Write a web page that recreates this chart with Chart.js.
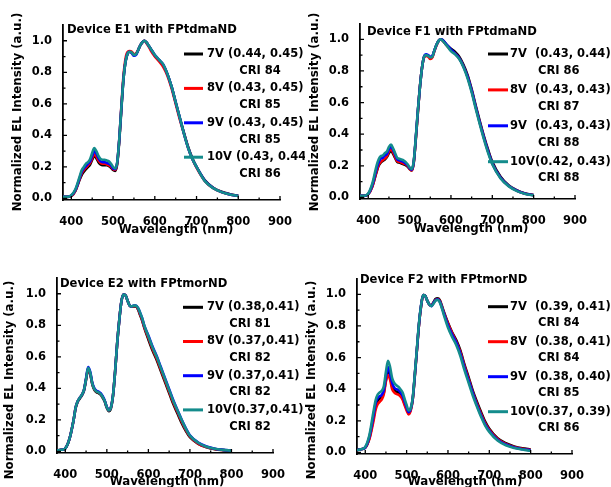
<!DOCTYPE html>
<html>
<head>
<meta charset="utf-8">
<script src="https://cdn.jsdelivr.net/npm/chart.js@4.4.1/dist/chart.umd.min.js"></script>
<style>
  body { margin: 0; background: #fff; }
  #wrap { position: relative; width: 611px; height: 487px; overflow: hidden; background: #fff; }
  .panel { position: absolute; }
</style>
</head>
<body>
<div id="wrap">
  <div class="panel" style="left:0;top:0"><canvas id="c1" width="305" height="245"></canvas></div>
  <div class="panel" style="left:305px;top:0"><canvas id="c2" width="306" height="245"></canvas></div>
  <div class="panel" style="left:0;top:245px"><canvas id="c3" width="305" height="242"></canvas></div>
  <div class="panel" style="left:305px;top:245px"><canvas id="c4" width="306" height="242"></canvas></div>
</div>
<script>
// wavelength grid (nm) shared by every spectrum
const wavelength = [380, 390, 400, 410, 420, 425, 430, 435, 440, 445, 450, 455, 460, 465, 470, 475, 480, 485, 490, 495, 500, 505, 510,
  515, 520, 525, 530, 535, 540, 545, 550, 555, 560, 565, 570, 575, 580, 585, 590,
  600, 610, 620, 630, 640, 650, 660, 670, 680, 690, 700, 720, 740, 760, 780, 800];

// Device E1 (FPtdmaND)
const e1_7V = [.01, .01, .015, .05, .12, .15, .17, .185, .20, .215, .245, .27, .255, .23, .215, .21, .21, .21, .205, .195, .18, .175, .22,
  .37, .57, .76, .87, .92, .93, .925, .91, .915, .94, .97, .99, 1.0, .99, .97, .95,
  .905, .875, .845, .79, .71, .61, .51, .415, .325, .255, .20, .115, .068, .042, .027, .017];
const e1_8V = [.01, .01, .015, .05, .125, .16, .18, .195, .21, .225, .255, .28, .265, .24, .225, .22, .22, .215, .21, .20, .185, .18, .225,
  .38, .59, .78, .89, .93, .935, .93, .915, .92, .94, .97, .99, 1.0, .985, .965, .94,
  .90, .87, .835, .78, .70, .60, .50, .41, .32, .25, .195, .11, .065, .04, .025, .015];
const e1_9V = [.01, .01, .018, .055, .13, .17, .19, .205, .22, .235, .27, .30, .285, .255, .235, .23, .23, .225, .22, .21, .19, .185, .23,
  .38, .58, .76, .87, .92, .93, .92, .905, .91, .94, .97, .99, 1.0, .99, .97, .95,
  .91, .88, .85, .79, .71, .61, .51, .41, .32, .25, .20, .112, .066, .04, .025, .015];
const e1_10V = [.01, .01, .02, .06, .14, .18, .20, .22, .23, .25, .29, .32, .30, .27, .25, .245, .245, .24, .235, .22, .20, .19, .23,
  .38, .58, .76, .87, .92, .93, .925, .91, .915, .94, .97, .99, 1.0, .99, .97, .95,
  .91, .88, .85, .79, .71, .61, .51, .41, .32, .25, .20, .11, .065, .04, .025, .015];

// Device F1 (FPtdmaND)
const f1_7V = [.01, .01, .02, .07, .16, .20, .22, .23, .24, .255, .28, .295, .275, .25, .225, .22, .215, .21, .205, .195, .18, .17, .22,
  .37, .54, .70, .82, .89, .90, .895, .885, .89, .93, .965, .99, 1.0, .995, .98, .965,
  .94, .92, .89, .84, .775, .685, .58, .48, .385, .30, .225, .13, .075, .045, .025, .015];
const f1_8V = [.01, .01, .02, .07, .165, .205, .225, .235, .245, .26, .29, .305, .285, .255, .23, .225, .22, .215, .21, .20, .18, .17, .22,
  .37, .54, .70, .82, .885, .895, .89, .875, .885, .925, .96, .99, 1.0, .99, .975, .96,
  .93, .91, .88, .83, .765, .675, .57, .47, .375, .29, .215, .125, .072, .042, .023, .014];
const f1_9V = [.01, .01, .022, .08, .18, .22, .245, .25, .265, .275, .305, .32, .30, .27, .24, .235, .23, .225, .215, .205, .185, .175, .225,
  .38, .55, .70, .82, .89, .905, .90, .89, .895, .93, .965, .99, 1.0, .995, .98, .965,
  .935, .91, .88, .83, .765, .675, .57, .47, .375, .29, .215, .125, .072, .042, .023, .014];
const f1_10V = [.01, .01, .025, .09, .20, .24, .26, .265, .28, .29, .32, .335, .31, .28, .25, .245, .24, .235, .225, .21, .19, .18, .23,
  .38, .55, .70, .82, .89, .90, .895, .885, .89, .93, .965, .99, 1.0, .99, .975, .96,
  .925, .905, .875, .825, .755, .665, .56, .46, .365, .28, .21, .12, .07, .04, .022, .013];

// Device E2 (FPtmorND)
const e2_7V = [.005, .01, .02, .08, .20, .275, .315, .335, .355, .385, .455, .52, .49, .425, .39, .375, .37, .36, .34, .315, .275, .255, .275,
  .355, .51, .69, .835, .95, .995, .99, .955, .925, .92, .92, .92, .90, .865, .83, .785,
  .71, .64, .58, .51, .44, .37, .30, .24, .18, .13, .09, .048, .026, .014, .008, .004];
const e2_8V = [.005, .01, .02, .08, .20, .28, .32, .34, .36, .39, .46, .525, .495, .43, .395, .38, .375, .365, .345, .32, .28, .26, .28,
  .36, .51, .69, .835, .95, .995, .99, .955, .925, .92, .922, .922, .905, .87, .835, .79,
  .72, .65, .59, .52, .45, .38, .31, .25, .19, .137, .095, .05, .028, .015, .009, .005];
const e2_9V = [.005, .01, .02, .08, .20, .28, .32, .34, .36, .39, .465, .535, .505, .435, .40, .385, .38, .37, .35, .322, .282, .262, .282,
  .36, .51, .69, .835, .95, .995, .99, .955, .925, .92, .925, .925, .91, .88, .845, .80,
  .735, .665, .605, .535, .465, .395, .325, .262, .202, .147, .102, .056, .031, .017, .01, .005];
const e2_10V = [.005, .01, .02, .08, .20, .28, .32, .34, .36, .39, .46, .53, .50, .43, .395, .38, .375, .365, .345, .32, .28, .26, .28,
  .36, .51, .69, .835, .95, .995, .99, .955, .925, .92, .925, .925, .91, .88, .845, .80,
  .73, .66, .60, .53, .46, .39, .32, .26, .20, .145, .10, .055, .03, .017, .01, .005];

// Device F2 (FPtmorND)
const f2_7V = [.02, .02, .03, .09, .22, .29, .325, .34, .35, .38, .46, .51, .48, .42, .395, .385, .38, .365, .345, .31, .275, .25, .27,
  .34, .49, .65, .81, .925, .995, .99, .96, .935, .93, .95, .97, .975, .965, .93, .89,
  .82, .76, .71, .645, .555, .475, .39, .32, .255, .195, .15, .09, .058, .038, .026, .019];
const f2_8V = [.015, .02, .03, .085, .20, .27, .305, .32, .335, .37, .45, .49, .46, .40, .38, .37, .365, .355, .335, .30, .265, .24, .265,
  .34, .49, .65, .81, .925, .995, .99, .96, .935, .93, .945, .965, .97, .96, .925, .885,
  .815, .755, .70, .635, .545, .465, .38, .31, .245, .185, .143, .085, .054, .035, .023, .017];
const f2_9V = [.015, .02, .032, .10, .235, .31, .345, .355, .365, .395, .48, .54, .50, .44, .41, .40, .395, .38, .36, .325, .285, .255, .275,
  .345, .495, .655, .815, .93, .995, .99, .96, .935, .925, .945, .962, .968, .955, .92, .88,
  .805, .745, .695, .625, .535, .455, .375, .30, .235, .178, .137, .08, .05, .031, .02, .014];
const f2_10V = [.015, .02, .035, .11, .26, .33, .365, .38, .39, .42, .51, .58, .54, .47, .44, .425, .415, .40, .38, .34, .30, .265, .28,
  .35, .50, .66, .82, .93, .995, .99, .96, .935, .925, .94, .96, .965, .95, .915, .87,
  .79, .73, .68, .61, .52, .44, .36, .29, .225, .17, .13, .075, .045, .028, .018, .01];

// text
const panelTitles = ["Device E1 with FPtdmaND", "Device F1 with FPtdmaND", "Device E2 with FPtmorND", "Device F2 with FPtmorND"];
const voltages = ["7V", "8V", "9V", "10V"];
const legendSep = [[" ", " ", " ", " "], ["", "", "", ""], [" ", " ", " ", ""], ["", "", "", ""]];
const cieCoords = [
  ["(0.44, 0.45)", "(0.43, 0.45)", "(0.43, 0.45)", "(0.43, 0.44)"],
  ["(0.43, 0.44)", "(0.43, 0.43)", "(0.43, 0.43)", "(0.42, 0.43)"],
  ["(0.38,0.41)", "(0.37,0.41)", "(0.37,0.41)", "(0.37,0.41)"],
  ["(0.39, 0.41)", "(0.38, 0.41)", "(0.38, 0.40)", "(0.37, 0.39)"]
];
const criValues = [
  ["CRI 84", "CRI 85", "CRI 85", "CRI 86"],
  ["CRI 86", "CRI 87", "CRI 88", "CRI 88"],
  ["CRI 81", "CRI 82", "CRI 82", "CRI 82"],
  ["CRI 84", "CRI 84", "CRI 85", "CRI 86"]
];
const xTicks = [400, 500, 600, 700, 800, 900];
const xMinor = [450, 550, 650, 750, 850];
const yTicks = [0, 0.2, 0.4, 0.6, 0.8, 1.0];
const yMinor = [0.1, 0.3, 0.5, 0.7, 0.9];
const xLabel = "Wavelength (nm)";
const yLabel = "Normalized EL Intensity (a.u.)";

const seriesColors = ["#000000", "#ff0000", "#0000ff", "#148c8c"];
const FONT = '"DejaVu Sans", sans-serif';

// plot area and text placement per panel (canvas pixels)
const panels = [
  { id: "c1", series: [e1_7V, e1_8V, e1_9V, e1_10V], area: { l: 63, r: 280, t: 25, b: 200 },
    title: [67, 30], yTitle: [18, 112], xTitle: [176, 230],
    legend: { x0: 184, x1: 203, tx: 207, y0: 54, gap: 34.4, split: false, crix: 260 } },
  { id: "c2", series: [f1_7V, f1_8V, f1_9V, f1_10V], area: { l: 55, r: 270, t: 23.5, b: 199 },
    title: [62, 31.5], yTitle: [10, 112], xTitle: [166, 229],
    legend: { x0: 183, x1: 203, tx: 205, cx: 230, y0: 54, gap: 35.9, split: true, crix: 233 } },
  { id: "c3", series: [e2_7V, e2_8V, e2_9V, e2_10V], area: { l: 57, r: 273, t: 33, b: 208 },
    title: [60, 38.5], yTitle: [10, 135], xTitle: [167, 237],
    legend: { x0: 183, x1: 203, tx: 207, y0: 62.3, gap: 34.2, split: false, crix: 250 } },
  { id: "c4", series: [f2_7V, f2_8V, f2_9V, f2_10V], area: { l: 52, r: 267, t: 33.5, b: 209 },
    title: [55, 35], yTitle: [7, 135], xTitle: [160, 237],
    legend: { x0: 183, x1: 203, tx: 205, cx: 230, y0: 61.7, gap: 35, split: true, crix: 233 } }
];

// minor ticks, panel title, axis titles and the voltage legend
const decorPlugin = {
  id: "decor",
  afterDraw(chart, args, opts) {
    const ctx = chart.ctx;
    const xs = chart.scales.x, ys = chart.scales.y;
    const ca = chart.chartArea;
    const p = opts.panel, k = opts.index;
    ctx.save();
    ctx.strokeStyle = "#000";
    ctx.lineWidth = 1.3;
    ctx.beginPath();
    xTicks.forEach(v => { const px = xs.getPixelForValue(v); ctx.moveTo(px, ca.bottom); ctx.lineTo(px, ca.bottom - 4); });
    xMinor.forEach(v => { const px = xs.getPixelForValue(v); ctx.moveTo(px, ca.bottom); ctx.lineTo(px, ca.bottom - 2.5); });
    yTicks.forEach(v => { const py = ys.getPixelForValue(v); ctx.moveTo(ca.left, py); ctx.lineTo(ca.left + 4, py); });
    yMinor.forEach(v => { const py = ys.getPixelForValue(v); ctx.moveTo(ca.left, py); ctx.lineTo(ca.left + 2.5, py); });
    ctx.stroke();

    ctx.fillStyle = "#000";
    ctx.font = "bold 11.6px " + FONT;
    ctx.textBaseline = "middle";
    ctx.textAlign = "left";
    ctx.fillText(panelTitles[k], p.title[0], p.title[1]);

    ctx.font = "bold 11.8px " + FONT;
    ctx.textAlign = "center";
    ctx.fillText(xLabel, p.xTitle[0], p.xTitle[1]);
    ctx.save();
    ctx.translate(p.yTitle[0], p.yTitle[1]);
    ctx.rotate(-Math.PI / 2);
    ctx.fillText(yLabel, 0, 0);
    ctx.restore();

    const lg = p.legend;
    ctx.font = "bold 11.5px " + FONT;
    voltages.forEach((v, i) => {
      const y = lg.y0 + i * lg.gap;
      ctx.strokeStyle = seriesColors[i];
      ctx.lineWidth = 3;
      ctx.beginPath();
      ctx.moveTo(lg.x0, y);
      ctx.lineTo(lg.x1, y);
      ctx.stroke();
      ctx.textAlign = "left";
      if (lg.split) {
        ctx.fillText(v, lg.tx, y);
        ctx.fillText(cieCoords[k][i], lg.cx, y);
        ctx.fillText(criValues[k][i], lg.crix, y + 16.8);
      } else {
        ctx.fillText(v + legendSep[k][i] + cieCoords[k][i], lg.tx, y);
        ctx.textAlign = "center";
        ctx.fillText(criValues[k][i], lg.crix, y + 16.8);
      }
    });
    ctx.restore();
  }
};

panels.forEach((p, k) => {
  const canvas = document.getElementById(p.id);
  const W = canvas.width, H = canvas.height;
  const datasets = p.series.map((vals, i) => ({
    label: voltages[i],
    data: wavelength.map((w, j) => ({ x: w, y: vals[j] })),
    borderColor: seriesColors[i],
    borderWidth: 2.6,
    pointRadius: 0,
    cubicInterpolationMode: "monotone",
    order: 4 - i
  }));

  new Chart(canvas, {
    type: "line",
    data: { datasets },
    options: {
      responsive: false,
      animation: false,
      layout: { padding: { left: 0, top: p.area.t, right: W - p.area.r, bottom: 0 } },
      plugins: {
        legend: { display: false },
        tooltip: { enabled: false },
        decor: { panel: p, index: k }
      },
      scales: {
        x: {
          type: "linear",
          min: 380,
          max: 900,
          afterFit: s => { s.height = H - p.area.b; },
          afterBuildTicks: s => { s.ticks = xTicks.map(v => ({ value: v })); },
          grid: { display: false },
          border: { display: true, color: "#000", width: 1.6 },
          ticks: { color: "#000", padding: 7, maxRotation: 0, font: { family: FONT, size: 11.5, weight: "bold" } }
        },
        y: {
          type: "linear",
          min: -0.01,
          max: 1.1,
          afterFit: s => { s.width = p.area.l; },
          afterBuildTicks: s => { s.ticks = yTicks.map(v => ({ value: v })); },
          grid: { display: false },
          border: { display: true, color: "#000", width: 1.8 },
          ticks: { color: "#000", padding: 3, callback: v => v.toFixed(1), font: { family: FONT, size: 11.5, weight: "bold" } }
        }
      }
    },
    plugins: [decorPlugin]
  });
});
</script>
</body>
</html>
